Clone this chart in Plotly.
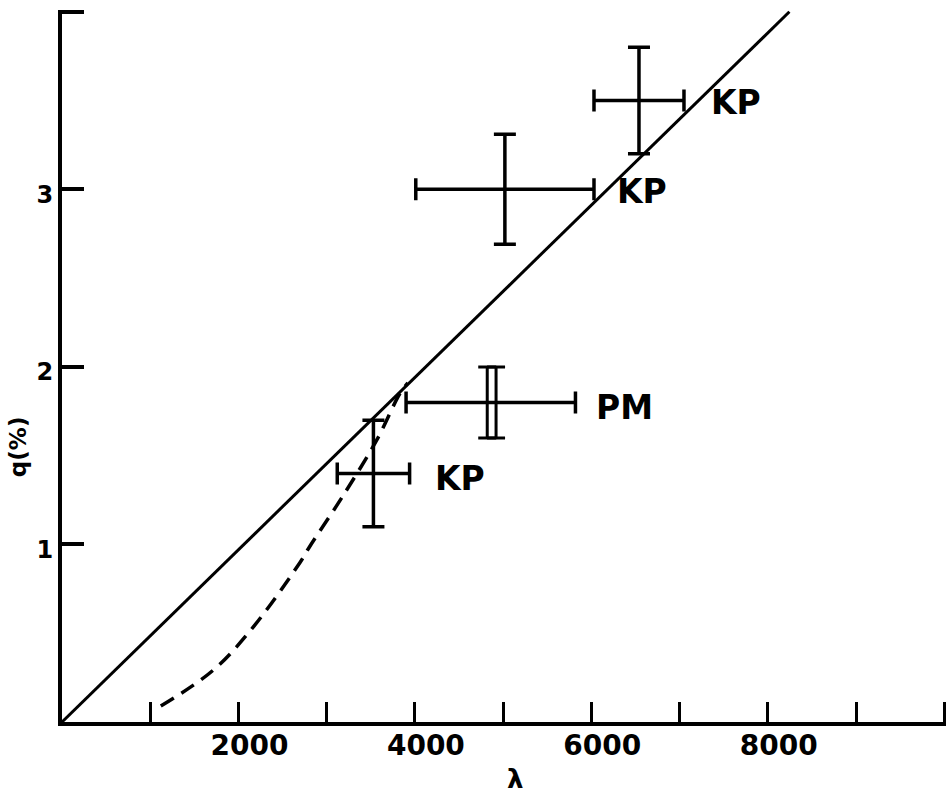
import plotly.graph_objects as go

# Theoretical straight line
line_x = [0, 8245]
line_y = [0, 4.0]

# Dashed curve
dash_x = [1120, 1710, 2160, 2700, 2810, 3180, 3570, 3830, 3920]
dash_y = [0.09, 0.29, 0.53, 0.90, 0.99, 1.27, 1.59, 1.85, 1.91]

# KP observations
kp_x = [6540, 5020, 3530]
kp_y = [3.50, 3.00, 1.40]
kp_xerr = [510, 1010, 410]
kp_yerr = [0.30, 0.31, 0.30]
kp_label_x = [7640, 6570, 4510]
kp_label_y = [3.49, 2.99, 1.37]

# PM observation (double vertical bar)
pm_x = [4870]
pm_y = [1.80]
pm_xerr_plus = [950]
pm_xerr_minus = [970]
pm_bar_x = [4820, 4920]
pm_bar_y = [1.80, 1.80]
pm_yerr = [0.20, 0.20]
pm_label_x = [6380]
pm_label_y = [1.77]

x_tickvals = [1000, 2000, 3000, 4000, 5000, 6000, 7000, 8000, 9000, 10000]
x_ticktext = ["", "2000", "", "4000", "", "6000", "", "8000", "", ""]
y_tickvals = [1, 2, 3, 4]
y_ticktext = ["1", "2", "3", ""]

BLACK = "#000000"
FONT = "DejaVu Sans"

fig = go.Figure()

fig.add_trace(go.Scatter(x=line_x, y=line_y, mode="lines",
                         line=dict(color=BLACK, width=3), hoverinfo="skip"))
fig.add_trace(go.Scatter(x=dash_x, y=dash_y, mode="lines",
                         line=dict(color=BLACK, width=3.5, dash="15px,9px", shape="spline"),
                         hoverinfo="skip"))

fig.add_trace(go.Scatter(
    x=kp_x, y=kp_y, mode="markers", marker=dict(size=1, color=BLACK),
    error_x=dict(type="data", array=kp_xerr, color=BLACK, thickness=3.5, width=11),
    error_y=dict(type="data", array=kp_yerr, color=BLACK, thickness=3.5, width=11)))

fig.add_trace(go.Scatter(
    x=pm_x, y=pm_y, mode="markers", marker=dict(size=1, color=BLACK),
    error_x=dict(type="data", symmetric=False, array=pm_xerr_plus,
                 arrayminus=pm_xerr_minus, color=BLACK, thickness=3.5, width=11)))
fig.add_trace(go.Scatter(
    x=pm_bar_x, y=pm_bar_y, mode="markers", marker=dict(size=1, color=BLACK),
    error_y=dict(type="data", array=pm_yerr, color=BLACK, thickness=3, width=9)))

for lx, ly in zip(kp_label_x, kp_label_y):
    fig.add_annotation(x=lx, y=ly, text="KP", showarrow=False,
                       font=dict(family=FONT, size=33, color=BLACK, weight="bold"))
for lx, ly in zip(pm_label_x, pm_label_y):
    fig.add_annotation(x=lx, y=ly, text="PM", showarrow=False,
                       font=dict(family=FONT, size=33, color=BLACK, weight="bold"))

fig.add_annotation(xref="paper", yref="paper", x=0.512, y=-0.080, text="λ",
                   xanchor="center", yanchor="middle", showarrow=False,
                   font=dict(family=FONT, size=26, color=BLACK, weight="bold"))
fig.add_annotation(xref="paper", yref="paper", x=-0.049, y=0.387, text="q(%)",
                   xanchor="center", yanchor="middle", textangle=-90, showarrow=False,
                   font=dict(family=FONT, size=23, color=BLACK, weight="bold"))

fig.update_layout(
    width=946, height=795,
    margin=dict(l=62, r=0, t=10, b=73),
    paper_bgcolor="white", plot_bgcolor="white",
    showlegend=False,
    xaxis=dict(range=[0, 10020], showgrid=False, zeroline=False,
               showline=True, linecolor=BLACK, linewidth=4,
               ticks="inside", ticklen=20, tickwidth=3, tickcolor=BLACK,
               tickvals=x_tickvals, ticktext=x_ticktext,
               ticklabelshift=11, ticklabelstandoff=-5,
               tickfont=dict(family=FONT, size=28, color=BLACK, weight="bold")),
    yaxis=dict(range=[0, 4.01], showgrid=False, zeroline=False,
               showline=True, linecolor=BLACK, linewidth=4,
               ticks="inside", ticklen=22, tickwidth=4, tickcolor=BLACK,
               tickvals=y_tickvals, ticktext=y_ticktext,
               ticklabelshift=5,
               tickfont=dict(family=FONT, size=24, color=BLACK, weight="bold")),
)

fig.write_html("out.html", config={"displayModeBar": False},
               post_script="document.body.style.margin='0';document.body.style.overflow='hidden';")
